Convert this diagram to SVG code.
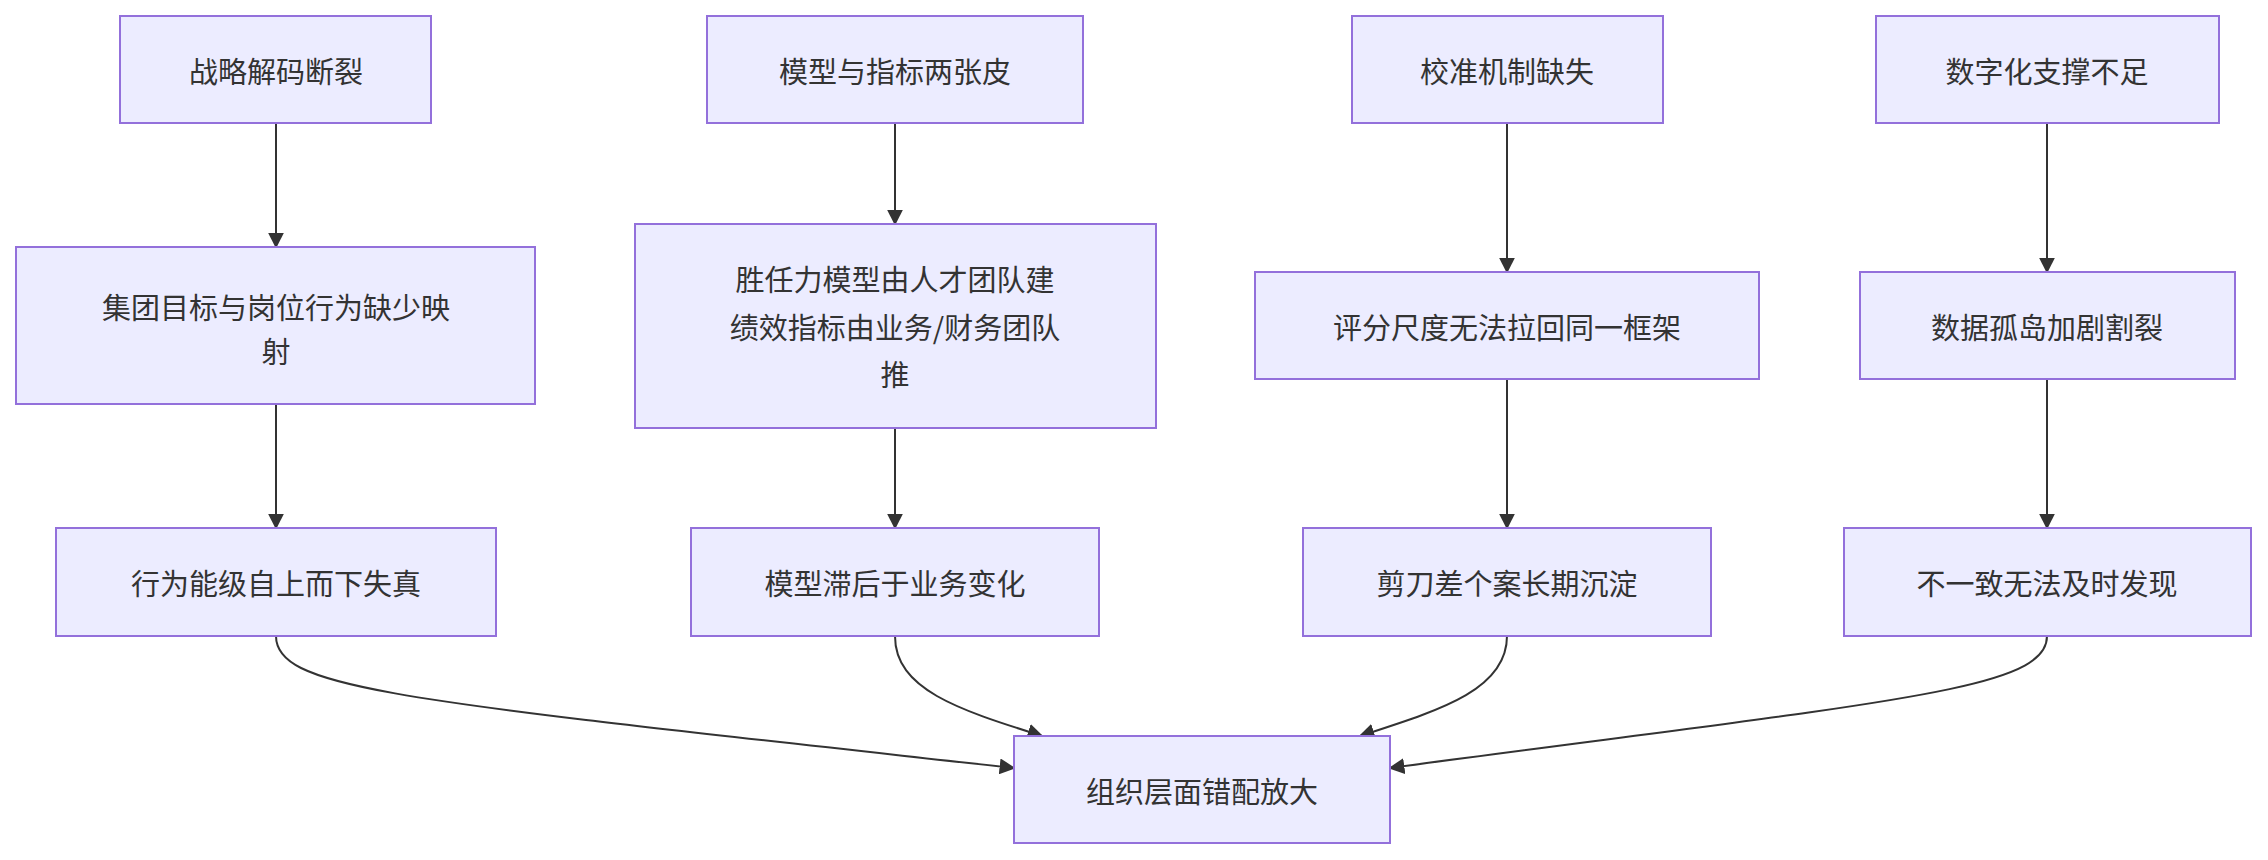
<svg xmlns="http://www.w3.org/2000/svg" width="2268" height="860" viewBox="0 0 2268 860">
<style>
.n rect{fill:#ECECFF;stroke:#9370DB;stroke-width:2}
.n text{font-family:"Noto Sans CJK SC","Liberation Sans",sans-serif;font-size:29px;fill:#333;text-anchor:middle;dominant-baseline:central}
.e path{fill:none;stroke:#333;stroke-width:2;marker-end:url(#a)}
</style>
<defs><marker id="a" viewBox="0 0 10 10" refX="9" refY="5" markerWidth="8" markerHeight="8" orient="auto"><path d="M0,0L10,5L0,10z" fill="#333"/></marker></defs>
<rect width="2268" height="860" fill="#fff"/>
<g class="e">
<path d="M276,123V247"/><path d="M895,123V224"/><path d="M1507,123V272"/><path d="M2047,123V272"/>
<path d="M276,404V528"/><path d="M895,428V528"/><path d="M1507,379V528"/><path d="M2047,379V528"/>
<path d="M276,636C276,690 400,700 1014,768"/>
<path d="M895,636C895,690 960,710 1042,736"/>
<path d="M1507,636C1507,690 1440,710 1360,736"/>
<path d="M2047,636C2047,690 1900,700 1390,768"/>
</g>
<g class="n" id="a1"><rect x="120" y="16" width="311" height="107"/><text x="276" y="70">战略解码断裂</text></g>
<g class="n" id="b1"><rect x="707" y="16" width="376" height="107"/><text x="895" y="70">模型与指标两张皮</text></g>
<g class="n" id="c1"><rect x="1352" y="16" width="311" height="107"/><text x="1507" y="70">校准机制缺失</text></g>
<g class="n" id="d1"><rect x="1876" y="16" width="343" height="107"/><text x="2047" y="70">数字化支撑不足</text></g>
<g class="n" id="a2"><rect x="16" y="247" width="519" height="157"/><text x="276" y="306">集团目标与岗位行为缺少映</text><text x="276" y="350">射</text></g>
<g class="n" id="b2"><rect x="635" y="224" width="521" height="204"/><text x="895" y="278">胜任力模型由人才团队建</text><text x="895" y="326">绩效指标由业务/财务团队</text><text x="895" y="373">推</text></g>
<g class="n" id="c2"><rect x="1255" y="272" width="504" height="107"/><text x="1507" y="326">评分尺度无法拉回同一框架</text></g>
<g class="n" id="d2"><rect x="1860" y="272" width="375" height="107"/><text x="2047" y="326">数据孤岛加剧割裂</text></g>
<g class="n" id="a3"><rect x="56" y="528" width="440" height="108"/><text x="276" y="582">行为能级自上而下失真</text></g>
<g class="n" id="b3"><rect x="691" y="528" width="408" height="108"/><text x="895" y="582">模型滞后于业务变化</text></g>
<g class="n" id="c3"><rect x="1303" y="528" width="408" height="108"/><text x="1507" y="582">剪刀差个案长期沉淀</text></g>
<g class="n" id="d3"><rect x="1844" y="528" width="407" height="108"/><text x="2047" y="582">不一致无法及时发现</text></g>
<g class="n" id="f"><rect x="1014" y="736" width="376" height="107"/><text x="1202" y="790">组织层面错配放大</text></g>
</svg>
